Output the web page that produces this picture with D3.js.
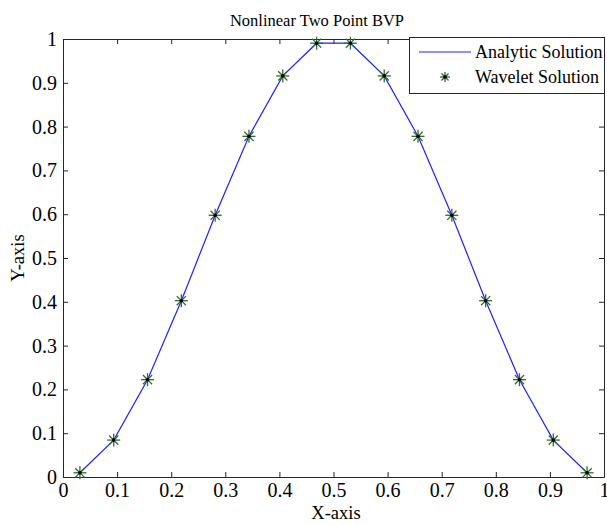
<!DOCTYPE html>
<meta charset="utf-8">
<title>Nonlinear Two Point BVP</title>
<style>
body { margin: 0; background: #fff; }
text { font-family: "Liberation Serif", "Times New Roman", serif; fill: #000; }
</style>
<body>
<script src="https://d3js.org/d3.v7.min.js"></script>
<script>

const xValues = [0.03125, 0.09375, 0.15625, 0.21875, 0.28125, 0.34375, 0.40625, 0.46875,
                 0.53125, 0.59375, 0.65625, 0.71875, 0.78125, 0.84375, 0.90625, 0.96875];
const analytic = [0.0096, 0.0843, 0.2222, 0.4025, 0.5975, 0.7778, 0.9157, 0.9904,
                  0.9904, 0.9157, 0.7778, 0.5975, 0.4025, 0.2222, 0.0843, 0.0096];
const wavelet = [0.0096, 0.0843, 0.2222, 0.4025, 0.5975, 0.7778, 0.9157, 0.9904,
                 0.9904, 0.9157, 0.7778, 0.5975, 0.4025, 0.2222, 0.0843, 0.0096];
const xTicks = [0, 0.1, 0.2, 0.3, 0.4, 0.5, 0.6, 0.7, 0.8, 0.9, 1];
const yTicks = [0, 0.1, 0.2, 0.3, 0.4, 0.5, 0.6, 0.7, 0.8, 0.9, 1];
const seriesNames = ["Analytic Solution", "Wavelet Solution"];

const width = 607, height = 525;
const box = { left: 63, right: 604, top: 39, bottom: 477 };

const svg = d3.select("body").append("svg")
    .attr("width", width)
    .attr("height", height);

const x = d3.scaleLinear().domain([0, 1]).range([box.left, box.right]);
const y = d3.scaleLinear().domain([0, 1]).range([box.bottom, box.top]);

const fmt = d => d === 0 || d === 1 ? String(d) : d.toFixed(1);

// axes box with inward ticks on all four sides
svg.append("g")
    .attr("transform", `translate(0,${box.bottom})`)
    .call(d3.axisBottom(x).tickValues(xTicks).tickFormat(fmt).tickSizeInner(-5).tickSizeOuter(0).tickPadding(6));
svg.append("g")
    .attr("transform", `translate(0,${box.top})`)
    .call(d3.axisTop(x).tickValues(xTicks).tickFormat("").tickSizeInner(-5).tickSizeOuter(0));
svg.append("g")
    .attr("transform", `translate(${box.left},0)`)
    .call(d3.axisLeft(y).tickValues(yTicks).tickFormat(fmt).tickSizeInner(-5).tickSizeOuter(0).tickPadding(6));
svg.append("g")
    .attr("transform", `translate(${box.right},0)`)
    .call(d3.axisRight(y).tickValues(yTicks).tickFormat("").tickSizeInner(-5).tickSizeOuter(0));

svg.selectAll(".domain").attr("stroke", "#262626");
svg.selectAll(".tick line").attr("stroke", "#262626");
svg.selectAll(".tick text").attr("font-size", null).style("font-size", "20px").attr("fill", "#000");

// titles
svg.append("text").attr("x", 317).attr("y", 26)
    .attr("text-anchor", "middle").style("font-size", "16.5px")
    .text("Nonlinear Two Point BVP");
svg.append("text").attr("x", 336).attr("y", 519)
    .attr("text-anchor", "middle").style("font-size", "18.5px")
    .text("X-axis");
svg.append("text").attr("transform", `translate(24,${(box.top + box.bottom) / 2}) rotate(-90)`)
    .attr("text-anchor", "middle").style("font-size", "18.5px")
    .text("Y-axis");

// analytic line
const line = d3.line().x((d, i) => x(xValues[i])).y(d => y(d));
svg.append("path")
    .datum(analytic)
    .attr("d", line)
    .attr("fill", "none")
    .attr("stroke", "#2020ff")
    .attr("stroke-width", 1.2);

// asterisk markers
function star(g, r) {
  [0, 45, 90, 135].forEach(deg => {
    const t = deg * Math.PI / 180;
    g.append("line")
        .attr("x1", -r * Math.cos(t)).attr("y1", -r * Math.sin(t))
        .attr("x2", r * Math.cos(t)).attr("y2", r * Math.sin(t))
        .attr("stroke", "#356b35").attr("stroke-width", 1.3);
  });
  g.append("circle").attr("r", 1.8).attr("fill", "#000");
}

svg.selectAll(".mk")
    .data(wavelet)
  .enter().append("g")
    .attr("class", "mk")
    .attr("transform", (d, i) => `translate(${x(xValues[i])},${y(d)})`)
    .each(function () { star(d3.select(this), 6.5); });

// legend
const lg = svg.append("g");
lg.append("rect").attr("x", 409.5).attr("y", 37.5).attr("width", 195).attr("height", 56)
    .attr("fill", "#fff").attr("stroke", "#262626");
lg.append("line").attr("x1", 419).attr("x2", 471).attr("y1", 52).attr("y2", 52)
    .attr("stroke", "#2020ff").attr("stroke-width", 1.2);
star(lg.append("g").attr("transform", "translate(445,77)"), 5);
lg.selectAll(".lt")
    .data(seriesNames)
  .enter().append("text")
    .attr("x", 475)
    .attr("y", (d, i) => 58 + i * 25)
    .style("font-size", "18px")
    .text(d => d);

</script>
</body>
